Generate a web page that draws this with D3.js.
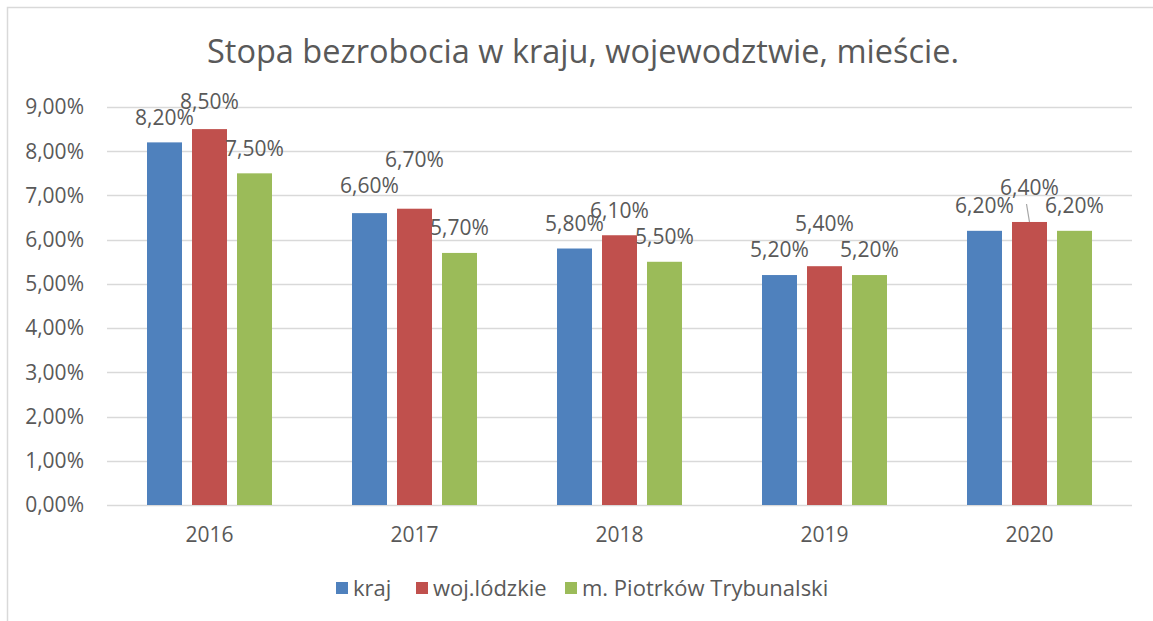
<!DOCTYPE html>
<html>
<head>
<meta charset="utf-8">
<script src="https://cdn.jsdelivr.net/npm/d3@7"></script>
<style>
  body { margin: 0; background: #fff; }
  text { font-family: "Open Sans", sans-serif; fill: #595959; }
</style>
</head>
<body>
<script>
// values
var years = ["2016", "2017", "2018", "2019", "2020"];
var seriesNames = ["kraj", "woj.lódzkie", "m. Piotrków Trybunalski"];
var kraj = [8.2, 6.6, 5.8, 5.2, 6.2];
var wojLodzkie = [8.5, 6.7, 6.1, 5.4, 6.4];
var piotrkow = [7.5, 5.7, 5.5, 5.2, 6.2];
var yTicks = [0, 1, 2, 3, 4, 5, 6, 7, 8, 9];
var title = "Stopa bezrobocia w kraju, wojewodztwie, mieście.";

var colors = ["#4F81BD", "#C0504D", "#9BBB59"];
// extra upward shift of some labels (Excel moved them to avoid overlap)
var labelLift = [
  [0, 2, 0, 0, 0],
  [2, 24, 0, 18, 9],
  [0, 0, 0, 0, 0]
];

var width = 1153, height = 621;
var fs = "21px";
var svg = d3.select("body").append("svg")
    .attr("width", width)
    .attr("height", height);

// chart frame (only top and left edges are visible)
svg.append("path")
    .attr("d", "M7.5,621V7.5H1153")
    .attr("fill", "none")
    .attr("stroke", "#D9D9D9")
    .attr("stroke-width", 1.5);

var x = d3.scaleBand()
    .domain(years)
    .range([107, 1132]);

var y = d3.scaleLinear()
    .domain([0, 9])
    .range([505, 107]);

var inner = d3.scaleBand()
    .domain(d3.range(3))
    .range([0, 135]);

// gridlines
svg.append("g")
    .selectAll("line")
    .data(yTicks)
    .enter()
    .append("line")
    .attr("x1", 107)
    .attr("x2", 1132)
    .attr("y1", function(d){ return Math.round(y(d)) + 0.5; })
    .attr("y2", function(d){ return Math.round(y(d)) + 0.5; })
    .attr("stroke", "#D9D9D9")
    .attr("stroke-width", 1.3);

// y axis labels
svg.append("g")
    .selectAll("text")
    .data(yTicks)
    .enter()
    .append("text")
    .attr("x", 84)
    .attr("y", function(d){ return y(d); })
    .attr("dy", "0.35em")
    .attr("text-anchor", "end")
    .style("font-size", fs)
    .text(function(d){ return d.toFixed(2).replace(".", ",") + "%"; });

// x axis labels
svg.append("g")
    .selectAll("text")
    .data(years)
    .enter()
    .append("text")
    .attr("x", function(d){ return x(d) + x.bandwidth() / 2; })
    .attr("y", 535)
    .attr("dy", "0.35em")
    .attr("text-anchor", "middle")
    .style("font-size", fs)
    .text(function(d){ return d; });

var series = [kraj, wojLodzkie, piotrkow];

var groupOffset = (x.bandwidth() - 135) / 2;
var barW = 35;

series.forEach(function(vals, si) {
    var g = svg.append("g");
    var cx = function(d, i){
        return x(years[i]) + groupOffset + inner(si) + inner.bandwidth() / 2;
    };
    g.selectAll("rect")
        .data(vals)
        .enter()
        .append("rect")
        .attr("x", function(d, i){ return cx(d, i) - barW / 2; })
        .attr("y", function(d){ return y(d); })
        .attr("width", barW)
        .attr("height", function(d){ return y(0) - y(d); })
        .attr("fill", colors[si]);

    g.selectAll("text")
        .data(vals)
        .enter()
        .append("text")
        .attr("x", function(d, i){ return cx(d, i); })
        .attr("y", function(d, i){ return y(d) - 25 - labelLift[si][i]; })
        .attr("dy", "0.35em")
        .attr("text-anchor", "middle")
        .style("font-size", fs)
        .text(function(d){ return d.toFixed(2).replace(".", ",") + "%"; });
});

// leader line for the moved 2020 label
var lx = x("2020") + groupOffset + inner(1) + inner.bandwidth() / 2;
svg.append("line")
    .attr("x1", lx - 3)
    .attr("y1", y(wojLodzkie[4]) - 18)
    .attr("x2", lx)
    .attr("y2", y(wojLodzkie[4]))
    .attr("stroke", "#A6A6A6")
    .attr("stroke-width", 1.2);

// title
svg.append("text")
    .attr("x", 583)
    .attr("y", 52)
    .attr("dy", "0.35em")
    .attr("text-anchor", "middle")
    .style("font-size", "32.5px")
    .text(title);

// legend
var legendX = [336, 416, 565];
var legend = svg.append("g")
    .selectAll("g")
    .data(seriesNames)
    .enter()
    .append("g")
    .attr("transform", function(d, i){ return "translate(" + legendX[i] + ",588)"; });

legend.append("rect")
    .attr("x", 0)
    .attr("y", -6)
    .attr("width", 12)
    .attr("height", 12)
    .attr("fill", function(d, i){ return colors[i]; });

legend.append("text")
    .attr("x", 17)
    .attr("y", 0)
    .attr("dy", "0.35em")
    .style("font-size", "22px")
    .text(function(d){ return d; });
</script>
</body>
</html>
